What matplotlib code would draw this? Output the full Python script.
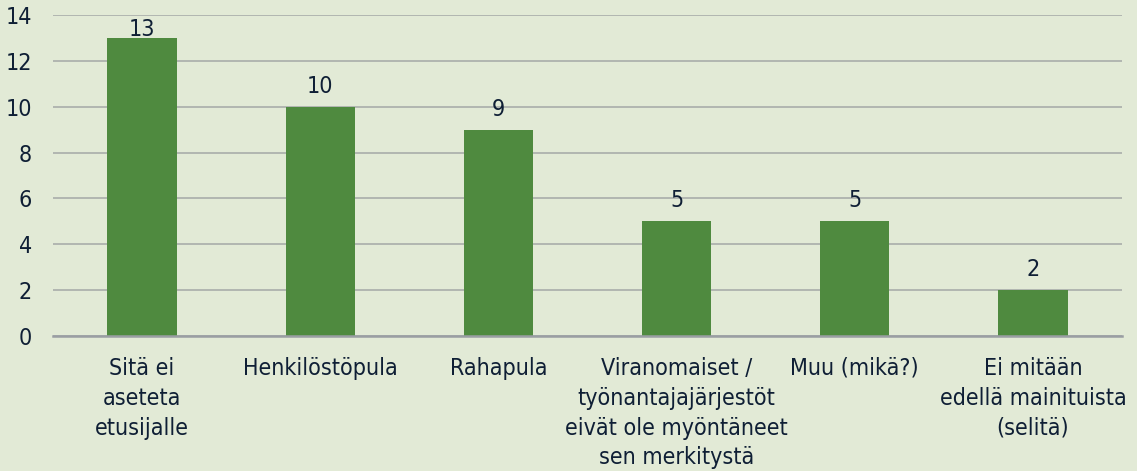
import matplotlib
matplotlib.use("Agg")
import matplotlib.pyplot as plt

categories = ["Sitä ei\naseteta\netusijalle", "Henkilöstöpula", "Rahapula",
              "Viranomaiset /\ntyönantajajärjestöt\neivät ole myöntäneet\nsen merkitystä",
              "Muu (mikä?)", "Ei mitään\nedellä mainituista\n(selitä)"]
values = [13, 10, 9, 5, 5, 2]
yticks = [0, 2, 4, 6, 8, 10, 12, 14]

bg = "#e2ead6"
bar_color = "#4f8a3f"
text_color = "#0f1f35"
grid_color = "#a9adaa"

plt.rcParams['font.family'] = ['DejaVu Sans']
plt.rcParams['font.stretch'] = 'condensed'
FS = 16.7

fig = plt.figure(figsize=(11.37, 4.71), dpi=100, facecolor=bg)
ax = fig.add_axes([53/1137, 1 - 336/471, (1122 - 53)/1137, (336 - 15)/471])
ax.set_facecolor(bg)

ymax = 14
x = list(range(len(categories)))
ax.bar(x, values, width=0.39, color=bar_color, zorder=3)
px_per_unit = (336 - 15) / ymax
for xi, v in zip(x, values):
    top_needed = v + (10 + 17) / px_per_unit
    if top_needed > ymax:
        ax.annotate(str(v), (xi, ymax), xytext=(0, -2), textcoords="offset points",
                    ha="center", va="top", fontsize=FS, color=text_color)
    else:
        ax.annotate(str(v), (xi, v), xytext=(0, 6.5), textcoords="offset points",
                    ha="center", va="bottom", fontsize=FS, color=text_color)

ax.set_xlim(-0.5, len(categories) - 0.5)
ax.set_ylim(0, ymax)
ax.set_yticks(yticks)
ax.set_yticklabels([str(t) for t in yticks], fontsize=FS, color=text_color)
ax.set_xticks(x)
ax.set_xticklabels(categories, fontsize=FS, color=text_color, linespacing=1.38)
ax.tick_params(axis="both", length=0)
ax.tick_params(axis="y", pad=15)
ax.tick_params(axis="x", pad=15)
ax.grid(axis="y", color=grid_color, linewidth=1.2, zorder=0)
for s in ["top", "right", "left"]:
    ax.spines[s].set_visible(False)
ax.spines["bottom"].set_color("#9a9ea3")
ax.spines["bottom"].set_linewidth(1.8)
ax.spines["bottom"].set_zorder(4)

fig.savefig("out.png", dpi=100, facecolor=bg)
